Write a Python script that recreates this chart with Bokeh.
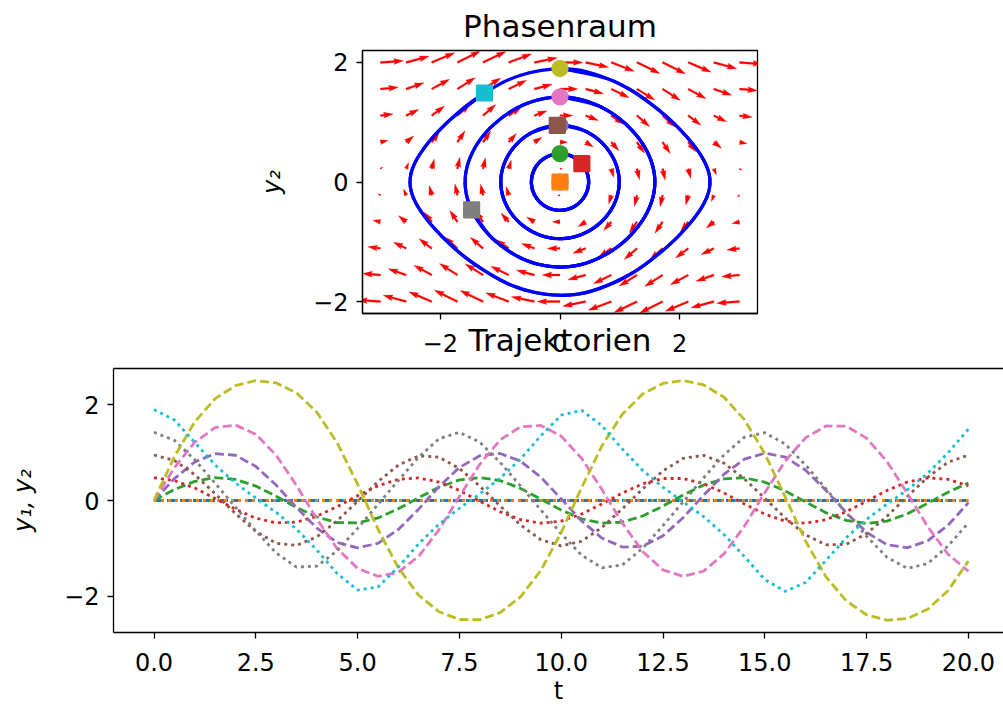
import math
import numpy as np
from bokeh.plotting import figure
from bokeh.models import FixedTicker, LinearAxis
from bokeh.embed import file_html
from bokeh.resources import INLINE

# ---------------- data ----------------
t = [0.0, 0.5, 1.0, 1.5, 2.0, 2.5, 3.0, 3.5, 4.0, 4.5, 5.0, 5.5, 6.0, 6.5, 7.0,
     7.5, 8.0, 8.5, 9.0, 9.5, 10.0, 10.5, 11.0, 11.5, 12.0, 12.5, 13.0, 13.5,
     14.0, 14.5, 15.0, 15.5, 16.0, 16.5, 17.0, 17.5, 18.0, 18.5, 19.0, 19.5, 20.0]

# start y2(0) = 0
y1_a = [0.0, 0.0, 0.0, 0.0, 0.0, 0.0, 0.0, 0.0, 0.0, 0.0, 0.0, 0.0, 0.0, 0.0,
        0.0, 0.0, 0.0, 0.0, 0.0, 0.0, 0.0, 0.0, 0.0, 0.0, 0.0, 0.0, 0.0, 0.0,
        0.0, 0.0, 0.0, 0.0, 0.0, 0.0, 0.0, 0.0, 0.0, 0.0, 0.0, 0.0, 0.0]
y2_a = [0.0, 0.0, 0.0, 0.0, 0.0, 0.0, 0.0, 0.0, 0.0, 0.0, 0.0, 0.0, 0.0, 0.0,
        0.0, 0.0, 0.0, 0.0, 0.0, 0.0, 0.0, 0.0, 0.0, 0.0, 0.0, 0.0, 0.0, 0.0,
        0.0, 0.0, 0.0, 0.0, 0.0, 0.0, 0.0, 0.0, 0.0, 0.0, 0.0, 0.0, 0.0]
# start y2(0) = 0.475
y1_b = [0.0, 0.228, 0.400, 0.478, 0.442, 0.301, 0.088, -0.146, -0.345, -0.461,
        -0.469, -0.365, -0.174, 0.059, 0.278, 0.430, 0.479, 0.416, 0.253, 0.029,
        -0.201, -0.384, -0.474, -0.452, -0.324, -0.117, 0.118, 0.324, 0.453,
        0.474, 0.383, 0.201, -0.030, -0.254, -0.416, -0.479, -0.430, -0.278,
        -0.059, 0.174, 0.365]
y2_b = [0.475, 0.417, 0.260, 0.043, -0.183, -0.368, -0.467, -0.452, -0.328,
        -0.128, 0.100, 0.307, 0.442, 0.471, 0.386, 0.209, -0.015, -0.235, -0.402,
        -0.474, -0.430, -0.283, -0.072, 0.156, 0.349, 0.460, 0.460, 0.349, 0.156,
        -0.072, -0.284, -0.431, -0.474, -0.402, -0.235, -0.014, 0.210, 0.386,
        0.471, 0.442, 0.306]
# start y2(0) = 0.95
y1_c = [0.0, 0.456, 0.805, 0.977, 0.945, 0.713, 0.322, -0.146, -0.579, -0.879,
        -0.990, -0.894, -0.606, -0.180, 0.289, 0.689, 0.935, 0.982, 0.824, 0.486,
        0.035, -0.425, -0.785, -0.972, -0.955, -0.737, -0.354, 0.112, 0.551,
        0.863, 0.989, 0.908, 0.633, 0.214, -0.255, -0.665, -0.923, -0.986,
        -0.842, -0.516, -0.045]
y2_c = [0.950, 0.836, 0.538, 0.144, -0.271, -0.644, -0.894, -0.939, -0.759,
        -0.422, -0.015, 0.394, 0.739, 0.933, 0.905, 0.668, 0.300, -0.114, -0.511,
        -0.819, -0.949, -0.851, -0.564, -0.174, 0.241, 0.620, 0.882, 0.943,
        0.779, 0.450, 0.046, -0.365, -0.717, -0.926, -0.915, -0.691, -0.330,
        0.083, 0.484, 0.802, 0.947]
# start y2(0) = 1.425
y1_d = [0.0, 0.684, 1.217, 1.521, 1.576, 1.382, 0.945, 0.313, -0.392, -1.007,
        -1.417, -1.583, -1.499, -1.167, -0.610, 0.082, 0.755, 1.265, 1.540,
        1.567, 1.344, 0.881, 0.232, -0.470, -1.066, -1.449, -1.586, -1.473,
        -1.113, -0.535, 0.164, 0.824, 1.309, 1.556, 1.554, 1.302, 0.814, 0.151,
        -0.547, -1.122, -1.477]
y2_d = [1.425, 1.257, 0.850, 0.361, -0.139, -0.637, -1.096, -1.391, -1.371,
        -1.049, -0.581, -0.082, 0.418, 0.904, 1.292, 1.423, 1.219, 0.796, 0.303,
        -0.197, -0.694, -1.142, -1.406, -1.347, -0.999, -0.524, -0.024, 0.475,
        0.956, 1.323, 1.416, 1.179, 0.741, 0.245, -0.254, -0.749, -1.185,
        -1.417, -1.319, -0.948, -0.466]
# start y2(0) = 1.9
y1_e = [0.0, 0.913, 1.641, 2.127, 2.401, 2.504, 2.456, 2.247, 1.843, 1.202,
        0.340, -0.598, -1.406, -1.979, -2.324, -2.485, -2.491, -2.343, -2.014,
        -1.461, -0.670, 0.265, 1.140, 1.801, 2.223, 2.446, 2.506, 2.415, 2.156,
        1.688, 0.979, 0.076, -0.845, -1.591, -2.096, -2.386, -2.501, -2.465,
        -2.271, -1.884, -1.262]
y2_e = [1.900, 1.683, 1.213, 0.745, 0.366, 0.053, -0.249, -0.598, -1.036,
        -1.527, -1.870, -1.806, -1.392, -0.904, -0.492, -0.162, 0.137, 0.464,
        0.867, 1.352, 1.783, 1.882, 1.564, 1.074, 0.630, 0.274, -0.030, -0.339,
        -0.711, -1.173, -1.651, -1.898, -1.714, -1.253, -0.779, -0.393, -0.077,
        0.224, 0.567, 0.997, 1.489]

# direction field (quiver) grid and components
quiver_y1 = [-3.0, -2.571, -2.143, -1.714, -1.286, -0.857, -0.429, 0.0,
             0.429, 0.857, 1.286, 1.714, 2.143, 2.571, 3.0]
quiver_y2 = [-2.0, -1.556, -1.111, -0.667, -0.222, 0.222, 0.667, 1.111,
             1.556, 2.0]
quiver_u_rows = [-2.0, -1.556, -1.111, -0.667, -0.222, 0.222, 0.667, 1.111,
                 1.556, 2.0]
quiver_v_cols = [0.141, 0.540, 0.841, 0.990, 0.960, 0.756, 0.416, 0.0,
                 -0.416, -0.756, -0.960, -0.990, -0.841, -0.540, -0.141]

top_ticks = [-2, 0, 2]
top_tick_labels = ["\u22122", "0", "2"]
bottom_xticks = [0.0, 2.5, 5.0, 7.5, 10.0, 12.5, 15.0, 17.5, 20.0]
bottom_xtick_labels = ["0.0", "2.5", "5.0", "7.5", "10.0", "12.5", "15.0", "17.5", "20.0"]
bottom_yticks = [-2, 0, 2]
bottom_ytick_labels = ["\u22122", "0", "2"]

title_top = "Phasenraum"
title_bottom = "Trajektorien"

series = [(y1_a, y2_a), (y1_b, y2_b), (y1_c, y2_c), (y1_d, y2_d), (y1_e, y2_e)]
tab10 = ["#1f77b4", "#ff7f0e", "#2ca02c", "#d62728", "#9467bd",
         "#8c564b", "#e377c2", "#7f7f7f", "#bcbd22", "#17becf"]

FONT = "DejaVu Sans"
W = 1003


def style_axis(ax):
    ax.axis_line_color = "black"
    ax.axis_line_width = 1.3
    ax.major_tick_line_color = "black"
    ax.major_tick_line_width = 1.3
    ax.major_tick_out = 6
    ax.major_tick_in = 0
    ax.minor_tick_line_color = None
    ax.major_label_text_font = FONT
    ax.major_label_text_font_size = "24px"
    ax.major_label_text_color = "black"
    ax.major_label_standoff = 8
    ax.axis_label_text_font = FONT
    ax.axis_label_text_font_size = "24px"
    ax.axis_label_text_font_style = "italic"
    ax.axis_label_text_color = "black"


def style(p):
    p.grid.visible = False
    p.outline_line_color = "black"
    p.outline_line_width = 1.3
    p.background_fill_color = "white"
    p.border_fill_color = "white"
    for ax in p.axis:
        style_axis(ax)


# ---------------- top: phase space ----------------
TX0, TX1, TY0, TY1 = -3.3, 3.3, -2.2, 2.2
T_FW, T_FH = 395, 263
T_H = 363
T_LEFT, T_TOP = 362, 50
p1 = figure(width=W, height=T_H, x_range=(TX0, TX1), y_range=(TY0, TY1),
            output_backend="svg", toolbar_location=None, title=title_top,
            min_border_left=T_LEFT, min_border_right=W - T_LEFT - T_FW,
            min_border_top=T_TOP, min_border_bottom=T_H - T_TOP - T_FH)
style(p1)
p1.title.align = "center"
p1.title.vertical_align = "top"
p1.title.text_font = FONT
p1.title.text_font_size = "31px"
p1.title.text_font_style = "normal"
p1.title.text_color = "black"
p1.title.standoff = 10
tx = p1.below[0]
tx.ticker = FixedTicker(ticks=top_ticks)
tx.major_label_overrides = dict(zip(top_ticks, top_tick_labels))
tx.major_label_standoff = 14
tx.axis_label = title_bottom
tx.axis_label_text_font_size = "31px"
tx.axis_label_text_font_style = "normal"
tx.axis_label_standoff = -33
ty = p1.left[0]
ty.ticker = FixedTicker(ticks=top_ticks)
ty.major_label_overrides = dict(zip(top_ticks, top_tick_labels))
ty.axis_label = "y\u2082"
ty.axis_label_standoff = 24

# quiver arrows (matplotlib-like geometry, pivot at tail)
dpx_x = (TX1 - TX0) / T_FW
dpx_y = (TY1 - TY0) / T_FH
SHAFT_W = 1.93
PX_PER_MAG = 11.5
qxs, qys = [], []
for j, yy in enumerate(quiver_y2):
    for i, xx in enumerate(quiver_y1):
        u = quiver_u_rows[j]
        v = quiver_v_cols[i]
        mag = math.hypot(u, v)
        L = mag * PX_PER_MAG / SHAFT_W
        if L < 1.0:
            th = np.arange(8) * np.pi / 3.0
            ax_ = np.cos(th) * 0.5
            ay_ = np.sin(th) * 0.5
        elif L < 5.0:
            s = L / 5.0
            ax_ = np.array([0, 0.5, 0, 5, 0, 0.5, 0, 0]) * s
            ay_ = np.array([0.5, 0.5, 1.5, 0, -1.5, -0.5, -0.5, 0.5]) * s
        else:
            ax_ = np.array([0, L - 4.5, L - 5, L, L - 5, L - 4.5, 0, 0])
            ay_ = np.array([0.5, 0.5, 1.5, 0, -1.5, -0.5, -0.5, 0.5])
        a = math.atan2(v, u)
        ca, sa = math.cos(a), math.sin(a)
        rx = (ax_ * ca - ay_ * sa) * SHAFT_W
        ry = (ax_ * sa + ay_ * ca) * SHAFT_W
        qxs.append(list(xx + rx * dpx_x))
        qys.append(list(yy + ry * dpx_y))
p1.patches(qxs, qys, fill_color="#ff0000", line_color="#ff0000", line_width=0.3)


def smooth_segments(xs, ys):
    """Cubic Bezier segments (Catmull-Rom tangents) through the sample points."""
    P = np.column_stack([xs, ys]).astype(float)
    n = len(P)
    out = {k: [] for k in ("x0", "y0", "x1", "y1", "cx0", "cy0", "cx1", "cy1")}
    for i in range(n - 1):
        pa = P[i - 1] if i > 0 else P[i]
        pb, pc = P[i], P[i + 1]
        pd = P[i + 2] if i + 2 < n else P[i + 1]
        c1 = pb + (pc - pa) / 6.0
        c2 = pc - (pd - pb) / 6.0
        out["x0"].append(pb[0]); out["y0"].append(pb[1])
        out["x1"].append(pc[0]); out["y1"].append(pc[1])
        out["cx0"].append(c1[0]); out["cy0"].append(c1[1])
        out["cx1"].append(c2[0]); out["cy1"].append(c2[1])
    return out


for (a1, a2) in series:
    seg = smooth_segments(a1, a2)
    p1.bezier(x0=seg["x0"], y0=seg["y0"], x1=seg["x1"], y1=seg["y1"],
              cx0=seg["cx0"], cy0=seg["cy0"], cx1=seg["cx1"], cy1=seg["cy1"],
              line_color="#0000ff", line_width=3.2, line_cap="round")

for k, (a1, a2) in enumerate(series):
    p1.scatter([a1[0]], [a2[0]], marker="circle", size=15.5,
               fill_color=tab10[2 * k], line_color=tab10[2 * k], line_width=1.7)
    p1.scatter([a1[-1]], [a2[-1]], marker="square", size=15.5,
               fill_color=tab10[2 * k + 1], line_color=tab10[2 * k + 1], line_width=1.7)

# ---------------- bottom: trajectories ----------------
B_H = 711 - T_H
B_LEFT, B_TOP, B_FH = 113, 5, 264
B_FW = W - B_LEFT
PX_PER_T = 40.72
BX0 = -(153.5 - B_LEFT) / PX_PER_T
BX1 = BX0 + B_FW / PX_PER_T
BY0, BY1 = -2.757, 2.757
p2 = figure(width=W, height=B_H, x_range=(BX0, BX1), y_range=(BY0, BY1),
            output_backend="svg", toolbar_location=None, title=None,
            min_border_left=B_LEFT, min_border_right=0,
            min_border_top=B_TOP, min_border_bottom=B_H - B_TOP - B_FH)
style(p2)
p2.outline_line_color = None
bx = p2.below[0]
bx.ticker = FixedTicker(ticks=bottom_xticks)
bx.major_label_overrides = dict(zip(bottom_xticks, bottom_xtick_labels))
bx.major_label_standoff = 14
bx.axis_label = "t"
bx.axis_label_text_font_style = "normal"
bx.axis_label_standoff = 3
by = p2.left[0]
by.ticker = FixedTicker(ticks=bottom_yticks)
by.major_label_overrides = dict(zip(bottom_yticks, bottom_ytick_labels))
by.axis_label = "y\u2081, y\u2082"
by.axis_label_standoff = 24
# top spine of the lower panel (the right spine lies outside the picture)
top_spine = LinearAxis(ticker=FixedTicker(ticks=[]), axis_line_color="black",
                       axis_line_width=1.3, major_tick_out=0, major_tick_in=0,
                       minor_tick_out=0, minor_tick_in=0, axis_label=None)
p2.add_layout(top_spine, "above")

for k, (a1, a2) in enumerate(series):
    p2.line(t, a1, line_color=tab10[2 * k], line_width=2.8, line_dash="9 4")
    p2.line(t, a2, line_color=tab10[2 * k + 1], line_width=2.8, line_dash="3 4")

open("out.html", "w").write(file_html([p1, p2], INLINE))
